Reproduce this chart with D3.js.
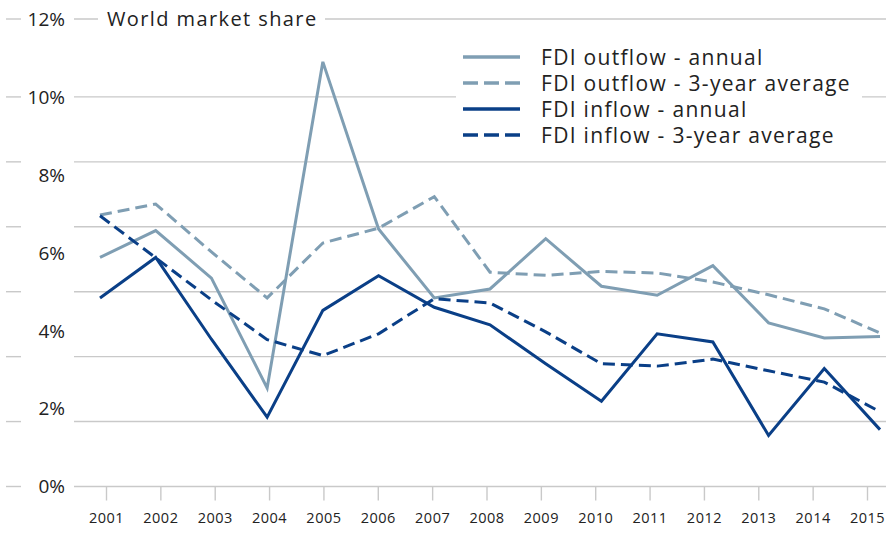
<!DOCTYPE html>
<html>
<head>
<meta charset="utf-8">
<script src="https://cdn.jsdelivr.net/npm/d3@7"></script>
<style>
  body { margin: 0; background: #fff; }
  svg { display: block; font-family: "Open Sans", "Noto Sans", sans-serif; }
</style>
</head>
<body>
<div id="chart"></div>
<script>
// World market share - FDI outflow / inflow, 2001-2015

const years = [2001, 2002, 2003, 2004, 2005, 2006, 2007, 2008, 2009, 2010, 2011, 2012, 2013, 2014, 2015];

const outflowAnnual = [5.88, 6.57, 5.35, 2.53, 10.9, 6.61, 4.84, 5.07, 6.36, 5.14, 4.91, 5.67, 4.2, 3.81, 3.85];
const outflowAvg = [6.97, 7.25, 6.02, 4.84, 6.25, 6.63, 7.44, 5.5, 5.42, 5.52, 5.48, 5.25, 4.92, 4.56, 3.94];
const inflowAnnual = [4.84, 5.88, 3.78, 1.78, 4.52, 5.41, 4.6, 4.15, 3.15, 2.19, 3.92, 3.71, 1.31, 3.03, 1.46];
const inflowAvg = [6.95, 5.87, 4.79, 3.77, 3.36, 3.92, 4.82, 4.71, 3.97, 3.15, 3.09, 3.27, 2.97, 2.68, 1.92];

const yLabels = [0, 2, 4, 6, 8, 10, 12];
const gridValues = [0, 1.667, 3.333, 5, 6.667, 8.333, 10, 12];

const seriesNames = [
  "FDI outflow - annual",
  "FDI outflow - 3-year average",
  "FDI inflow - annual",
  "FDI inflow - 3-year average",
];

const width = 886;
const height = 536;
const light = "#7f9eb3";
const dark = "#0a3f87";
const gridColor = "#c9c9c9";

const svg = d3
  .select("#chart")
  .append("svg")
  .attr("width", width)
  .attr("height", height);

const y = d3.scaleLinear().domain([0, 12]).range([486.5, 19]);
const xData = d3.scaleLinear().domain([2001, 2015]).range([100, 880]);
const xTick = d3.scalePoint().domain(years).range([106, 867]);

// gridlines
const grid = svg.append("g").attr("class", "grid");
gridValues.forEach((v) => {
  grid
    .append("line")
    .attr("x1", 6)
    .attr("x2", 21)
    .attr("y1", y(v))
    .attr("y2", y(v))
    .attr("stroke", gridColor)
    .attr("stroke-width", 1.4);
  grid
    .append("line")
    .attr("x1", 74)
    .attr("x2", width)
    .attr("y1", y(v))
    .attr("y2", y(v))
    .attr("stroke", gridColor)
    .attr("stroke-width", 1.4);
});

// y labels
svg
  .append("g")
  .selectAll("text")
  .data(yLabels)
  .join("text")
  .attr("x", 65)
  .attr("y", (d) => y(d))
  .attr("dy", "0.36em")
  .attr("text-anchor", "end")
  .style("font-size", "19px")
  .attr("fill", "#222")
  .text((d) => d + "%");

// x axis ticks
const xAxis = svg
  .append("g")
  .attr("transform", `translate(0,${y(0)})`)
  .call(d3.axisBottom(xTick).tickSize(14).tickPadding(12))
  .call((g) => g.select(".domain").remove());
xAxis.selectAll(".tick line").attr("stroke", gridColor).attr("stroke-width", 1.4);
xAxis
  .selectAll(".tick text")
  .attr("fill", "#222")
  .style("font-size", "14.5px")
  .style("letter-spacing", "0.5px")
  .style("font-family", "\"Open Sans\", sans-serif");

// title, masking the top gridline
const mask = svg
  .append("rect")
  .attr("x", 98)
  .attr("width", 325 - 98)
  .attr("fill", "#fff");
const title = svg
  .append("text")
  .attr("x", 107)
  .attr("y", y(12))
  .attr("dy", "0.36em")
  .style("font-size", "20px")
  .style("letter-spacing", "1.4px")
  .attr("fill", "#222")
  .text("World market share");
const tb = title.node().getBBox();
mask.attr("y", tb.y).attr("height", tb.height);

// series lines
const line = d3
  .line()
  .x((d, i) => xData(years[i]))
  .y((d) => y(d));

const series = [
  { values: outflowAnnual, color: light, dash: null },
  { values: outflowAvg, color: light, dash: "12,6" },
  { values: inflowAnnual, color: dark, dash: null },
  { values: inflowAvg, color: dark, dash: "12,6" },
];

series.forEach((s) => {
  svg
    .append("path")
    .datum(s.values)
    .attr("d", line)
    .attr("fill", "none")
    .attr("stroke", s.color)
    .attr("stroke-width", 3)
    .attr("stroke-linejoin", "miter")
    .attr("stroke-dasharray", s.dash);
});

// legend
const legend = svg.append("g").attr("class", "legend");
legend
  .append("rect")
  .attr("x", 456)
  .attr("y", 40)
  .attr("width", 862 - 456)
  .attr("height", 110)
  .attr("fill", "#fff");

const legendY = [57, 83, 109, 135];
seriesNames.forEach((name, i) => {
  const s = series[i];
  legend
    .append("line")
    .attr("x1", 463)
    .attr("x2", 520)
    .attr("y1", legendY[i])
    .attr("y2", legendY[i])
    .attr("stroke", s.color)
    .attr("stroke-width", 3.5)
    .attr("stroke-dasharray", s.dash ? "15,6" : null);
  legend
    .append("text")
    .attr("x", 541)
    .attr("y", legendY[i])
    .attr("dy", "0.36em")
    .style("font-size", "21px")
    .style("letter-spacing", "1.3px")
    .attr("fill", "#222")
    .text(name);
});
</script>
</body>
</html>
